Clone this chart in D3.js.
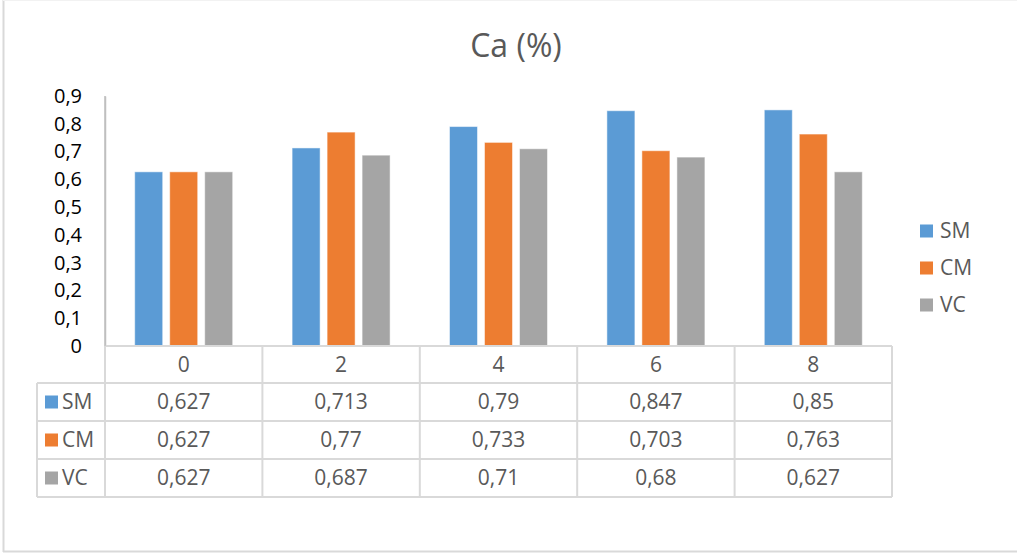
<!DOCTYPE html>
<html>
<head>
<meta charset="utf-8">
<script src="https://cdn.jsdelivr.net/npm/d3@7"></script>
<style>
  html, body { margin: 0; padding: 0; background: #fff; }
  svg { display: block; font-family: "Open Sans", sans-serif; }
</style>
</head>
<body>
<svg id="chart" width="1017" height="553"></svg>
<script>
// Ca (%) by day, three treatments
const categories = ["0", "2", "4", "6", "8"];
const seriesNames = ["SM", "CM", "VC"];
const smValues = [0.627, 0.713, 0.79, 0.847, 0.85];
const cmValues = [0.627, 0.77, 0.733, 0.703, 0.763];
const vcValues = [0.627, 0.687, 0.71, 0.68, 0.627];
const yTicks = [0, 0.1, 0.2, 0.3, 0.4, 0.5, 0.6, 0.7, 0.8, 0.9];
const colors = ["#5b9bd5", "#ed7d31", "#a5a5a5"];

const series = [smValues, cmValues, vcValues];
const fmt = v => String(v).replace(".", ",");

const svg = d3.select("#chart");

// frame
svg.append("line").attr("x1", 3.5).attr("x2", 3.5).attr("y1", 0).attr("y2", 552)
  .attr("stroke", "#d9d9d9").attr("stroke-width", 2);
svg.append("line").attr("x1", 3).attr("x2", 1017).attr("y1", 551.5).attr("y2", 551.5)
  .attr("stroke", "#d9d9d9").attr("stroke-width", 2);
svg.append("line").attr("x1", 3).attr("x2", 1017).attr("y1", 0.5).attr("y2", 0.5)
  .attr("stroke", "#f2f2f2").attr("stroke-width", 1);

// title
svg.append("text").attr("x", 516).attr("y", 57).attr("text-anchor", "middle")
  .attr("font-size", 32).attr("fill", "#595959").text("Ca (%)");

const plotLeft = 105, plotRight = 892, plotTop = 96, plotBottom = 346;
const x = d3.scaleBand().domain(categories).range([plotLeft, plotRight]);
const y = d3.scaleLinear().domain([0, 0.9]).range([plotBottom, plotTop]);

// y axis
const yAxis = svg.append("g").attr("transform", `translate(${plotLeft},0)`)
  .call(d3.axisLeft(y).tickValues(yTicks).tickSize(0).tickPadding(23).tickFormat(fmt));
yAxis.select(".domain").attr("stroke", "#bfbfbf").attr("stroke-width", 1.5);
yAxis.selectAll("text").attr("font-size", 20).attr("fill", "#000")
  .attr("font-family", "'Open Sans', sans-serif");

// bars
const inner = d3.scaleBand().domain(seriesNames).paddingInner(0.2);
categories.forEach((c, i) => {
  const cx = x(c) + x.bandwidth() / 2;
  inner.range([cx - 49, cx + 49]);
  svg.append("g").selectAll("rect")
    .data(seriesNames.map((s, k) => ({ s, k, v: series[k][i] })))
    .join("rect")
    .attr("x", d => inner(d.s))
    .attr("width", inner.bandwidth())
    .attr("y", d => y(d.v))
    .attr("height", d => y(0) - y(d.v))
    .attr("fill", d => colors[d.k])
    .attr("stroke", "#fff").attr("stroke-opacity", 0.5).attr("stroke-width", 1);
});

// data table
const rowTop = [346, 383, 421, 459, 497];
const keyLeft = 37;
const grid = svg.append("g").attr("stroke", "#d9d9d9").attr("stroke-width", 2);
grid.append("line").attr("x1", plotLeft).attr("x2", plotRight).attr("y1", rowTop[0]).attr("y2", rowTop[0]);
rowTop.slice(1).forEach(ry => {
  grid.append("line").attr("x1", keyLeft).attr("x2", plotRight).attr("y1", ry).attr("y2", ry);
});
grid.append("line").attr("x1", keyLeft).attr("x2", keyLeft).attr("y1", rowTop[1]).attr("y2", rowTop[4]);
categories.forEach(c => {
  grid.append("line").attr("x1", x(c)).attr("x2", x(c)).attr("y1", rowTop[0]).attr("y2", rowTop[4]);
});
grid.append("line").attr("x1", plotRight).attr("x2", plotRight).attr("y1", rowTop[0]).attr("y2", rowTop[4]);
svg.append("line").attr("x1", plotLeft).attr("x2", plotLeft).attr("y1", plotTop).attr("y2", plotBottom)
  .attr("stroke", "#bfbfbf").attr("stroke-width", 1.5);

const tbl = svg.append("g").attr("font-size", 21).attr("fill", "#595959");
categories.forEach(c => {
  tbl.append("text").attr("x", x(c) + x.bandwidth() / 2).attr("y", (rowTop[0] + rowTop[1]) / 2)
    .attr("text-anchor", "middle").attr("dy", "0.35em").text(c);
});
seriesNames.forEach((s, k) => {
  const cy = (rowTop[k + 1] + rowTop[k + 2]) / 2;
  tbl.append("rect").attr("x", 45).attr("y", cy - 6.5).attr("width", 13).attr("height", 13)
    .attr("fill", colors[k]);
  tbl.append("text").attr("x", 62).attr("y", cy).attr("dy", "0.35em").text(s);
  categories.forEach((c, i) => {
    tbl.append("text").attr("x", x(c) + x.bandwidth() / 2).attr("y", cy)
      .attr("text-anchor", "middle").attr("dy", "0.35em").text(fmt(series[k][i]));
  });
});

// legend
const legendY = [231, 268, 305];
seriesNames.forEach((s, k) => {
  svg.append("rect").attr("x", 920).attr("y", legendY[k] - 6.5).attr("width", 13).attr("height", 13)
    .attr("fill", colors[k]);
  svg.append("text").attr("x", 940).attr("y", legendY[k]).attr("dy", "0.35em")
    .attr("font-size", 21).attr("fill", "#595959").text(s);
});
</script>
</body>
</html>
